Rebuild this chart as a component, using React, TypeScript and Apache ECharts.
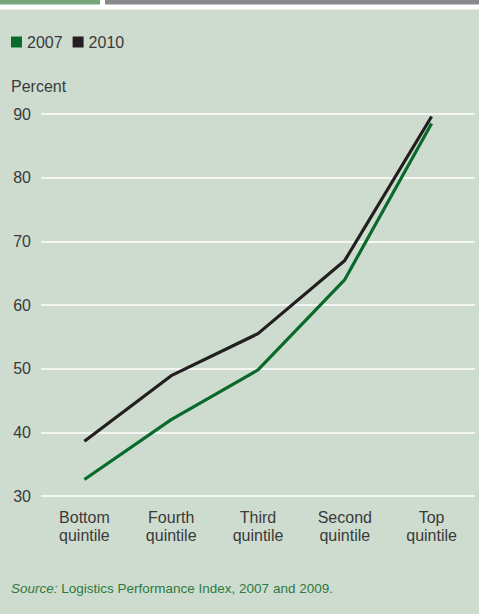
import React, { useEffect, useRef } from "react";
import * as echarts from "echarts";

const categories = ["Bottom\nquintile", "Fourth\nquintile", "Third\nquintile", "Second\nquintile", "Top\nquintile"];
const series2007 = [32.6, 42.0, 49.8, 64.0, 88.5];
const series2010 = [38.6, 48.9, 55.5, 67.0, 89.6];
const yTicks = { min: 30, max: 90, interval: 10 };

const FONT = "'Liberation Sans Narrow', 'Arial Narrow', 'Liberation Sans', Arial, sans-serif";
const TEXT = "#3a3a3a";
const GREEN = "#0a6a2c";
const BLACK = "#231f20";

export default function App() {
  const ref = useRef<HTMLDivElement>(null);
  useEffect(() => {
    if (!ref.current) return;
    const chart = echarts.init(ref.current, null, { renderer: "svg" });
    chart.setOption({
      animation: false,
      backgroundColor: "#ffffff",
      textStyle: { fontFamily: FONT },
      graphic: [
        { type: "rect", shape: { x: 0, y: 0, width: 100, height: 4.5 }, style: { fill: "#78a67b" }, z: -10 },
        { type: "rect", shape: { x: 105, y: 0, width: 374, height: 4.5 }, style: { fill: "#88898d" }, z: -10 },
        { type: "rect", shape: { x: 0, y: 9.5, width: 479, height: 605 }, style: { fill: "#cddccf" }, z: -10 },
        {
          type: "text", x: 11, y: 86,
          style: { text: "Percent", fontFamily: FONT, fontSize: 16, fill: TEXT, verticalAlign: "middle", align: "left" },
        },
        {
          type: "text", x: 11, y: 588,
          style: {
            text: "{i|Source:} Logistics Performance Index, 2007 and 2009.",
            fontFamily: FONT, fontSize: 13.5, fill: "#2e7a3c", verticalAlign: "middle", align: "left",
            rich: { i: { fontStyle: "italic", fontFamily: FONT, fontSize: 13.5, fill: "#2e7a3c" } },
          },
        },
      ],
      legend: {
        left: 11, top: 34, padding: 0, icon: "rect", itemWidth: 11, itemHeight: 11, itemGap: 10,
        textStyle: { fontFamily: FONT, fontSize: 16, color: TEXT, padding: [0, 0, 0, 0] },
        data: ["2007", "2010"],
      },
      grid: { left: 41, right: 4, top: 114, bottom: 118, containLabel: false },
      xAxis: {
        type: "category", data: categories, boundaryGap: true,
        axisLine: { show: false }, axisTick: { show: false },
        axisLabel: { color: TEXT, fontFamily: FONT, fontSize: 16, lineHeight: 18, margin: 12, interval: 0 },
      },
      yAxis: {
        type: "value", min: yTicks.min, max: yTicks.max, interval: yTicks.interval,
        axisLine: { show: false }, axisTick: { show: false },
        axisLabel: { color: TEXT, fontFamily: FONT, fontSize: 16, margin: 10 },
        splitLine: { lineStyle: { color: "#ffffff", width: 1.5 } },
      },
      series: [
        { name: "2007", type: "line", data: series2007, symbol: "none", lineStyle: { color: GREEN, width: 3.2 }, itemStyle: { color: GREEN } },
        { name: "2010", type: "line", data: series2010, symbol: "none", lineStyle: { color: BLACK, width: 3.2 }, itemStyle: { color: BLACK } },
      ],
    });
    return () => chart.dispose();
  }, []);
  return <div ref={ref} style={{ position: "absolute", left: 0, top: 0, width: 479, height: 614 }} />;
}
